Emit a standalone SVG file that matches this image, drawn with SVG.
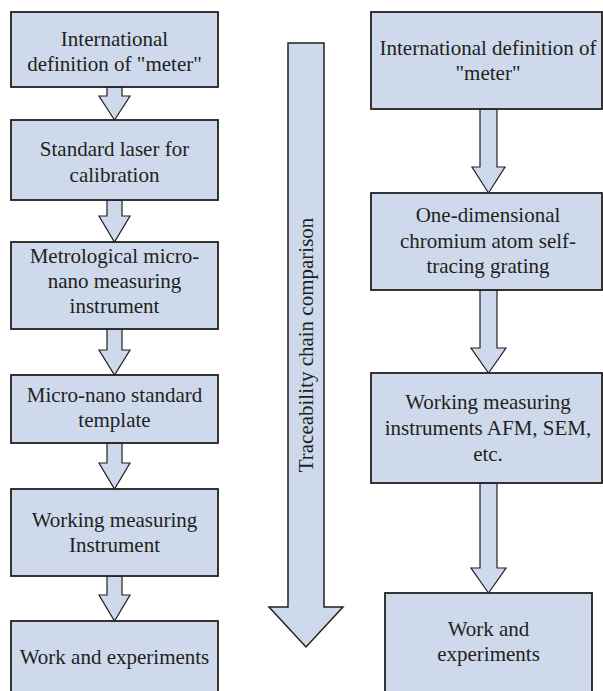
<svg xmlns="http://www.w3.org/2000/svg" width="603" height="691" viewBox="0 0 603 691">
<style>
.box{fill:#cedaec;stroke:#231f20;stroke-width:1.8}
.arr{fill:#cedaec;stroke:#231f20;stroke-width:1.2;stroke-linejoin:miter}
.t{font-family:"Liberation Serif","Times New Roman",serif;font-size:21px;fill:#231f20;text-anchor:middle}
</style>
<rect width="603" height="691" fill="#ffffff"/>
<g id="connectors">
<polygon class="arr" points="107,87 122,87 122,96 130,96 114.5,120 99,96 107,96"/>
<polygon class="arr" points="107,200 122,200 122,216 130,216 114.5,242 99,216 107,216"/>
<polygon class="arr" points="107,329 122,329 122,350 130,350 114.5,375 99,350 107,350"/>
<polygon class="arr" points="107,443 122,443 122,463 130,463 114.5,489 99,463 107,463"/>
<polygon class="arr" points="107,576 122,576 122,595 130,595 114.5,621 99,595 107,595"/>
<polygon class="arr" points="480,109 497,109 497,167 505,167 488.5,193 472,167 480,167"/>
<polygon class="arr" points="480,290 497,290 497,348 506,348 488.5,373 471,348 480,348"/>
<polygon class="arr" points="480,483 497,483 497,568 506,568 488.5,593 471,568 480,568"/>
</g>
<g id="chain-arrow">
<polygon class="arr" style="stroke-width:1.5" points="288,43 324,43 324,607 343,607 306,647 269,607 288,607"/>
<text class="t" transform="translate(313,345) rotate(-90)">Traceability chain comparison</text>
</g>
<g id="L1">
<rect class="box" x="11" y="12" width="207" height="75"/>
<text class="t" x="114.5" y="46">International</text>
<text class="t" x="114.5" y="71">definition of "meter"</text>
</g>
<g id="L2">
<rect class="box" x="11" y="120" width="207" height="80"/>
<text class="t" x="114.5" y="156">Standard laser for</text>
<text class="t" x="114.5" y="182">calibration</text>
</g>
<g id="L3">
<rect class="box" x="11" y="242" width="207" height="87"/>
<text class="t" x="114.5" y="263">Metrological micro-</text>
<text class="t" x="114.5" y="288">nano measuring</text>
<text class="t" x="114.5" y="313">instrument</text>
</g>
<g id="L4">
<rect class="box" x="11" y="375" width="207" height="68"/>
<text class="t" x="114.5" y="402">Micro-nano standard</text>
<text class="t" x="114.5" y="427">template</text>
</g>
<g id="L5">
<rect class="box" x="11" y="489" width="207" height="87"/>
<text class="t" x="114.5" y="527">Working measuring</text>
<text class="t" x="114.5" y="552">Instrument</text>
</g>
<g id="L6">
<rect class="box" x="11" y="621" width="207" height="75"/>
<text class="t" x="114.5" y="664">Work and experiments</text>
</g>
<g id="R1">
<rect class="box" x="371" y="12" width="231" height="97"/>
<text class="t" x="488" y="55">International definition of</text>
<text class="t" x="488" y="80">"meter"</text>
</g>
<g id="R2">
<rect class="box" x="371" y="193" width="231" height="97"/>
<text class="t" x="488" y="222">One-dimensional</text>
<text class="t" x="488" y="248">chromium atom self-</text>
<text class="t" x="488" y="273">tracing grating</text>
</g>
<g id="R3">
<rect class="box" x="371" y="373" width="231" height="110"/>
<text class="t" x="488" y="409">Working measuring</text>
<text class="t" x="488" y="435">instruments AFM, SEM,</text>
<text class="t" x="488" y="461">etc.</text>
</g>
<g id="R4">
<rect class="box" x="385" y="593" width="207" height="103"/>
<text class="t" x="488.5" y="636">Work and</text>
<text class="t" x="488.5" y="661">experiments</text>
</g>
</svg>
